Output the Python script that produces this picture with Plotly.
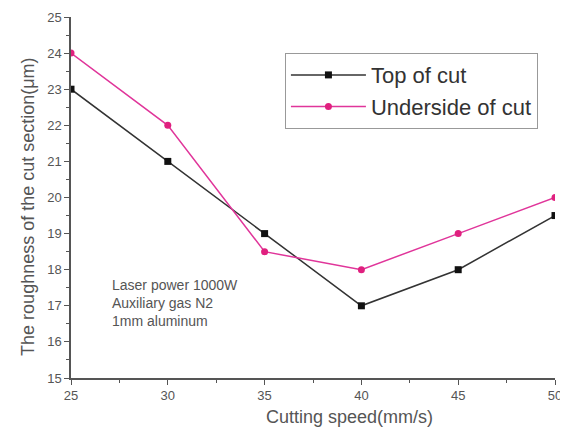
import plotly.graph_objects as go

speed = [25, 30, 35, 40, 45, 50]
top_of_cut = [23, 21, 19, 17, 18, 19.5]
underside_of_cut = [24, 22, 18.5, 18, 19, 20]
x_ticks = [25, 30, 35, 40, 45, 50]
y_ticks = [15, 16, 17, 18, 19, 20, 21, 22, 23, 24, 25]

fig = go.Figure()
fig.add_trace(go.Scatter(x=speed, y=top_of_cut, name="Top of cut", mode="lines+markers",
                         line=dict(color="#333333", width=1.5),
                         marker=dict(symbol="square", size=7, color="#111111")))
fig.add_trace(go.Scatter(x=speed, y=underside_of_cut, name="Underside of cut", mode="lines+markers",
                         line=dict(color="#e0359a", width=1.5),
                         marker=dict(symbol="circle", size=7, color="#e0207f")))

fig.update_layout(
    width=560, height=426,
    margin=dict(l=63, r=13, t=9, b=56, autoexpand=False),
    paper_bgcolor="white", plot_bgcolor="white",
    font=dict(family="Liberation Sans, Arial, sans-serif", color="#555555"),
    showlegend=True,
    legend=dict(x=0.442, y=0.9, xanchor="left", yanchor="top",
                bordercolor="#999999", borderwidth=1, bgcolor="white",
                font=dict(size=22, color="#333333"), tracegroupgap=0,
                itemwidth=75),
    xaxis=dict(range=[25, 50], tickvals=x_ticks, ticktext=[str(v) for v in x_ticks],
               automargin=False,
               showgrid=False, zeroline=False, showline=True, linecolor="#555555", linewidth=1.5,
               ticks="outside", ticklen=5, tickcolor="#555555",
               minor=dict(dtick=2.5, ticks="outside", ticklen=3, tickcolor="#555555"),
               tickfont=dict(size=13, color="#555555")),
    yaxis=dict(range=[15, 25], tickvals=y_ticks, ticktext=[str(v) for v in y_ticks],
               automargin=False,
               showgrid=False, zeroline=False, showline=True, linecolor="#555555", linewidth=1.5,
               ticks="outside", ticklen=5, tickcolor="#555555",
               minor=dict(dtick=0.5, ticks="outside", ticklen=3, tickcolor="#555555"),
               tickfont=dict(size=13, color="#555555")),
)

# axis titles
fig.add_annotation(x=0.575, y=-0.108, xref="paper", yref="paper", xanchor="center", yanchor="middle",
                   text="Cutting speed(mm/s)", showarrow=False,
                   font=dict(size=18, color="#555555"))
fig.add_annotation(x=-0.0888, y=0.474, xref="paper", yref="paper", xanchor="center", yanchor="middle",
                   text="The roughness of the cut section(μm)", showarrow=False, textangle=-90,
                   font=dict(size=18, color="#555555"))

fig.add_annotation(x=0.08, y=0.208, xref="paper", yref="paper", xanchor="left", yanchor="middle",
                   text="Laser power 1000W<br>Auxiliary gas N2<br>1mm aluminum",
                   showarrow=False, align="left", font=dict(size=14, color="#555555"))

fig.write_html("out.html")
